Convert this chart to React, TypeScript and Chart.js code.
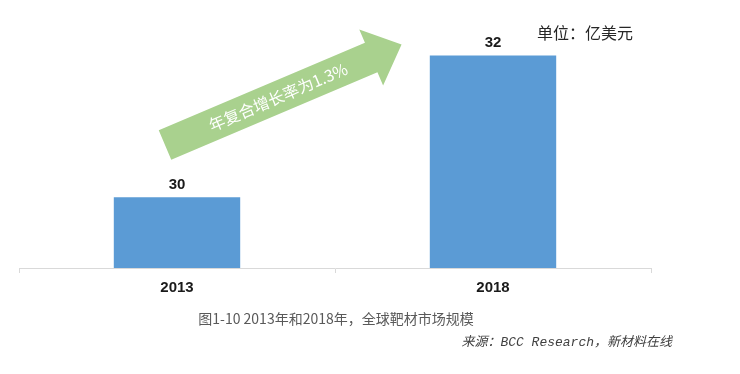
import React, { useEffect, useRef } from "react";
import { Chart, registerables } from "chart.js";

Chart.register(...registerables);

const categories = ["2013", "2018"];
const values = [30, 32];
const yMin = 29;
const yMax = 32.5;
const unitLabel = "单位：亿美元";
const arrowLabel = "年复合增长率为1.3%";
const caption = "图1-10 2013年和2018年，全球靶材市场规模";
const source = "来源：BCC Research，新材料在线";

const BAR_COLOR = "#5b9bd5";
const ARROW_COLOR = "#a9d18e";

const decorPlugin = {
  id: "decor",
  afterDatasetsDraw(chart: any) {
    const ctx = chart.ctx as CanvasRenderingContext2D;
    const meta = chart.getDatasetMeta(0);
    ctx.save();
    // value labels
    ctx.font = "bold 15px 'Liberation Sans', Arial, sans-serif";
    ctx.fillStyle = "#1a1a1a";
    ctx.textAlign = "center";
    ctx.textBaseline = "alphabetic";
    meta.data.forEach((bar: any, i: number) => {
      ctx.fillText(String(values[i]), bar.x, bar.y - 8);
    });

    // growth arrow
    ctx.save();
    ctx.translate(165, 145);
    ctx.rotate((-23 * Math.PI) / 180);
    ctx.beginPath();
    ctx.moveTo(0, -16);
    ctx.lineTo(224, -16);
    ctx.lineTo(224, -30.5);
    ctx.lineTo(257, 0);
    ctx.lineTo(224, 30.5);
    ctx.lineTo(224, 16);
    ctx.lineTo(0, 16);
    ctx.closePath();
    ctx.fillStyle = ARROW_COLOR;
    ctx.fill();
    ctx.fillStyle = "#ffffff";
    ctx.font = "16px 'Noto Sans CJK SC', sans-serif";
    ctx.textAlign = "center";
    ctx.textBaseline = "middle";
    ctx.fillText(arrowLabel, 123, 0);
    ctx.restore();

    // unit label
    ctx.font = "16px 'Noto Sans CJK SC', sans-serif";
    ctx.fillStyle = "#262626";
    ctx.textAlign = "left";
    ctx.textBaseline = "middle";
    ctx.fillText(unitLabel, 537, 33);

    // caption
    ctx.font = "14px 'Noto Sans CJK SC', sans-serif";
    ctx.fillStyle = "#595959";
    ctx.textAlign = "center";
    ctx.fillText(caption, 336, 319);

    // source
    ctx.font = "italic 13px 'Liberation Mono', 'Noto Sans CJK SC', monospace";
    ctx.fillStyle = "#404040";
    ctx.textAlign = "right";
    ctx.fillText(source, 672, 343);
    ctx.restore();
  },
};

export default function App() {
  const ref = useRef<HTMLCanvasElement | null>(null);
  useEffect(() => {
    if (!ref.current) return;
    const chart = new Chart(ref.current, {
      type: "bar",
      data: {
        labels: categories,
        datasets: [
          {
            data: values,
            backgroundColor: BAR_COLOR,
            borderWidth: 0,
            categoryPercentage: 1,
            barPercentage: 0.4,
          },
        ],
      },
      options: {
        animation: false,
        responsive: false,
        devicePixelRatio: 1,
        layout: { padding: { left: 19, right: 89, top: 20, bottom: 0 } },
        plugins: {
          legend: { display: false },
          tooltip: { enabled: false },
        },
        scales: {
          x: {
            afterFit: (scale: any) => {
              scale.height = 106;
            },
            grid: {
              display: true,
              drawOnChartArea: false,
              drawTicks: true,
              tickLength: 5,
              color: "#d9d9d9",
              offset: true,
            },
            border: { display: true, color: "#d9d9d9", width: 1 },
            ticks: {
              padding: 6,
              color: "#1a1a1a",
              font: { family: "'Liberation Sans', Arial, sans-serif", size: 15, weight: "bold" },
            },
          },
          y: {
            display: false,
            min: yMin,
            max: yMax,
          },
        },
      },
      plugins: [decorPlugin],
    } as any);
    return () => chart.destroy();
  }, []);
  return (
    <div style={{ position: "absolute", left: 0, top: 0, width: 740, height: 374, background: "#fff" }}>
      <canvas ref={ref} width={740} height={374} />
    </div>
  );
}
